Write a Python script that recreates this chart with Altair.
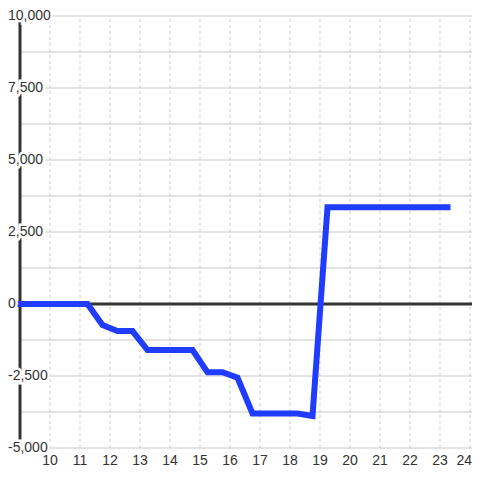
import altair as alt
import pandas as pd

# ---- data ----
hours = [9, 11.25, 11.75, 12.25, 12.75, 13.25, 14.75, 15.25, 15.75, 16.25, 16.75, 18.25, 18.75, 19.25, 23.25]
values = [0, 0, -730, -940, -940, -1600, -1600, -2370, -2370, -2560, -3800, -3800, -3890, 3360, 3360]
x_ticks = list(range(10, 25))
y_ticks = [-5000, -2500, 0, 2500, 5000, 7500, 10000]
y_grid = [-5000 + 1250 * i for i in range(13)]

W = H = 464
X_DOM = [8.6, 24.0667]
Y_DOM = [-5833.33, 10277.78]
FONT = "Liberation Sans"
TXT = "#333333"


def xs():
    return alt.Scale(domain=X_DOM, nice=False, zero=False)


def ys():
    return alt.Scale(domain=Y_DOM, nice=False, zero=False)


line_df = pd.DataFrame({"hour": hours, "value": values})
xt_df = pd.DataFrame({"hour": x_ticks, "label": [str(t) for t in x_ticks]})
yt_df = pd.DataFrame({"value": y_ticks, "label": [f"{v:,}" for v in y_ticks]})
yg_df = pd.DataFrame({"value": y_grid})

vgrid = alt.Chart(xt_df).mark_rule(color="#cccccc", strokeWidth=1, strokeDash=[3, 3]).encode(
    x=alt.X("hour:Q", scale=xs(), axis=None),
    y=alt.Y("lo:Q", scale=ys(), axis=None),
    y2="hi:Q",
).transform_calculate(lo="-5000", hi="10000")

hgrid = alt.Chart(yg_df).mark_rule(color="#c8c8c8", strokeWidth=1).encode(
    y=alt.Y("value:Q", scale=ys(), axis=None),
    x=alt.X("lo:Q", scale=xs(), axis=None),
    x2="hi:Q",
).transform_calculate(lo="9", hi="24.0667")

zero = alt.Chart(pd.DataFrame({"value": [0]})).mark_rule(color=TXT, strokeWidth=3).encode(
    y=alt.Y("value:Q", scale=ys(), axis=None),
    x=alt.X("lo:Q", scale=xs(), axis=None),
    x2="hi:Q",
).transform_calculate(lo="9", hi="24.0667")

yaxis = alt.Chart(pd.DataFrame({"hour": [9]})).mark_rule(color=TXT, strokeWidth=3).encode(
    x=alt.X("hour:Q", scale=xs(), axis=None),
    y=alt.Y("lo:Q", scale=ys(), axis=None),
    y2="hi:Q",
).transform_calculate(lo="-5000", hi="10000")

line = alt.Chart(line_df).mark_line(color="#1f3cff", strokeWidth=6, strokeCap="square",
                                    strokeJoin="miter").encode(
    x=alt.X("hour:Q", scale=xs(), axis=None),
    y=alt.Y("value:Q", scale=ys(), axis=None),
    order="hour:Q",
)

ylab_halo = alt.Chart(yt_df).mark_text(align="left", baseline="middle", font=FONT, fontSize=14,
                                       color="white", stroke="white", strokeWidth=5).encode(
    x=alt.value(0),
    y=alt.Y("value:Q", scale=ys(), axis=None),
    text="label:N",
)
ylab = alt.Chart(yt_df).mark_text(align="left", baseline="middle", font=FONT, fontSize=14,
                                  color=TXT).encode(
    x=alt.value(0),
    y=alt.Y("value:Q", scale=ys(), axis=None),
    text="label:N",
)
xlab = alt.Chart(xt_df).mark_text(align="center", baseline="middle", font=FONT, fontSize=14,
                                  color=TXT).encode(
    x=alt.X("hour:Q", scale=xs(), axis=None),
    y=alt.value(453),
    text="label:N",
).transform_filter("datum.hour < 24")
xlab_last = alt.Chart(xt_df).mark_text(align="right", baseline="middle", font=FONT, fontSize=14,
                                       color=TXT, dx=2).encode(
    x=alt.X("hour:Q", scale=xs(), axis=None),
    y=alt.value(453),
    text="label:N",
).transform_filter("datum.hour >= 24")

chart = alt.layer(vgrid, hgrid, zero, yaxis, line, ylab_halo, ylab, xlab, xlab_last).properties(
    width=W, height=H, padding=0, autosize=alt.AutoSizeParams(type="none"),
    background="white",
).configure_view(stroke=None)

chart.save("out.html", embed_options={"renderer": "svg", "actions": False})
